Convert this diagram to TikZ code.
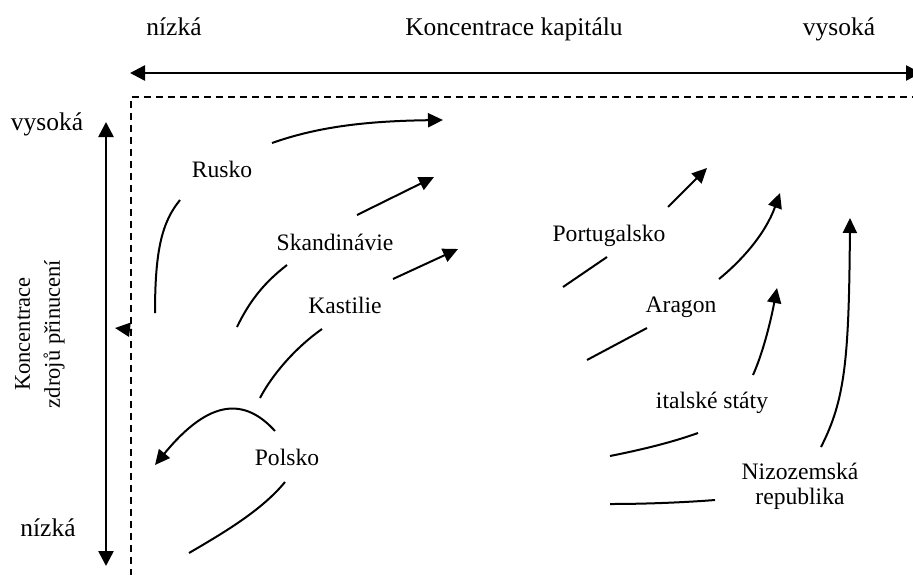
\documentclass[tikz,border=0pt]{standalone}
\usepackage{fontspec}
\setmainfont{Liberation Serif}
\usetikzlibrary{arrows.meta}
\begin{document}
\begin{tikzpicture}[x=1pt,y=-1pt,
  axl/.style={font=\fontsize{25.5}{30}\selectfont, inner sep=0pt, anchor=base},
  lbl/.style={font=\fontsize{23.6}{25}\selectfont, inner sep=0pt, anchor=base},
  tip/.style={-{Triangle[length=15pt,width=14pt]}},
  seg/.style={line width=2pt},
  arr/.style={line width=2pt, tip},
  axis/.style={line width=2.6pt, {Triangle[length=15pt,width=15pt]}-{Triangle[length=15pt,width=15pt]}},
  frame/.style={line width=1.8pt, dash pattern=on 7pt off 5pt},
]
\useasboundingbox (0,0) rectangle (913,574);

% axis labels
\node[axl] (xlow) at (174,35) {nízká};
\node[axl] (xtitle) at (514,35) {Koncentrace kapitálu};
\node[axl] (xhigh) at (839,35) {vysoká};
\node[axl] (yhigh) at (47,130) {vysoká};
\node[axl] (ylow) at (48,536) {nízká};
\node[font=\fontsize{22.5}{30}\selectfont, inner sep=0pt, rotate=90, align=center]
  (ytitle) at (40,334) {Koncentrace\\zdrojů přinucení};

% axes
\coordinate (xa) at (130,73);
\coordinate (xb) at (921,73);
\coordinate (ya) at (106,122);
\coordinate (yb) at (106,566);
\draw[axis] (xa) -- (xb);
\draw[axis] (ya) -- (yb);

% dashed frame
\coordinate (f1) at (131,576);
\coordinate (f2) at (131,97);
\coordinate (f3) at (915,97);
\draw[frame] (f1) -- (f2) -- (f3);

% small arrow at the frame
\coordinate (sa1) at (132,330);
\coordinate (sa2) at (115,328);
\draw[arr] (sa1) -- (sa2);

% country labels
\node[lbl] (rusko) at (222,177) {Rusko};
\node[lbl] (skand) at (335,250) {Skandinávie};
\node[lbl] (kast) at (345,313) {Kastilie};
\node[lbl] (polsko) at (287,465) {Polsko};
\node[lbl] (portu) at (609,241) {Portugalsko};
\node[lbl] (aragon) at (681,312) {Aragon};
\node[lbl] (italie) at (712,408) {italské státy};
\node[lbl, align=center] (nizo) at (800,504) {Nizozemská\\republika};

% Rusko
\coordinate (ru1) at (155,313); \coordinate (ru2) at (180,200);
\coordinate (ru3) at (272,143); \coordinate (ru4) at (443,120);
\draw[seg] (ru1) .. controls (155,250) and (162,222) .. (ru2);
\draw[arr] (ru3) .. controls (320,126) and (370,121) .. (ru4);

% Skandinavie
\coordinate (sk1) at (237,327); \coordinate (sk2) at (287,265);
\coordinate (sk3) at (357,215); \coordinate (sk4) at (434,177);
\draw[seg] (sk1) .. controls (250,300) and (265,282) .. (sk2);
\draw[arr] (sk3) -- (sk4);

% Kastilie
\coordinate (ka1) at (260,398); \coordinate (ka2) at (322,329);
\coordinate (ka3) at (393,279); \coordinate (ka4) at (458,249);
\draw[seg] (ka1) .. controls (272,375) and (295,348) .. (ka2);
\draw[arr] (ka3) -- (ka4);

% Polsko
\coordinate (po1) at (189,553); \coordinate (po2) at (285,482);
\coordinate (po3) at (275,431); \coordinate (po4) at (155,465);
\draw[seg] (po1) .. controls (225,532) and (262,510) .. (po2);
\draw[arr] (po3) .. controls (245,398) and (210,398) .. (po4);

% Portugalsko
\coordinate (pt1) at (563,287); \coordinate (pt2) at (607,257);
\coordinate (pt3) at (668,207); \coordinate (pt4) at (707,168);
\draw[seg] (pt1) -- (pt2);
\draw[arr] (pt3) -- (pt4);

% Aragon
\coordinate (ar1) at (587,360); \coordinate (ar2) at (647,328);
\coordinate (ar3) at (719,279); \coordinate (ar4) at (780,193);
\draw[seg] (ar1) -- (ar2);
\draw[arr] (ar3) .. controls (740,262) and (765,235) .. (ar4);

% italske staty
\coordinate (it1) at (610,456); \coordinate (it2) at (698,433);
\coordinate (it3) at (753,375); \coordinate (it4) at (777,288);
\draw[seg] (it1) .. controls (640,450) and (670,443) .. (it2);
\draw[arr] (it3) .. controls (762,355) and (770,325) .. (it4);

% Nizozemska republika
\coordinate (ni1) at (610,504); \coordinate (ni2) at (715,500);
\coordinate (ni3) at (821,447); \coordinate (ni4) at (850,218);
\draw[seg] (ni1) .. controls (650,504) and (690,502) .. (ni2);
\draw[arr] (ni3) .. controls (845,400) and (849,360) .. (ni4);
\end{tikzpicture}
\end{document}
